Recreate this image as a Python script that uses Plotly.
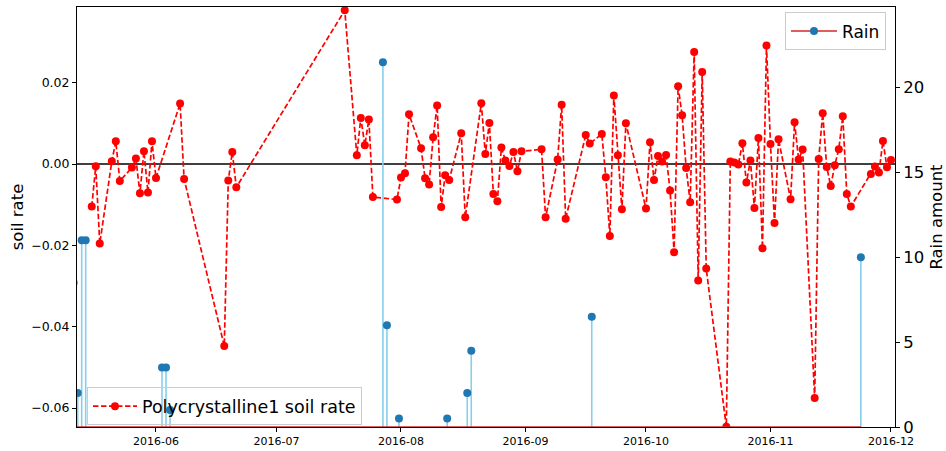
import plotly.graph_objects as go

# ---- soil rate series (daily) ----
dates = [
    "2016-05-16", "2016-05-17", "2016-05-18", "2016-05-21", "2016-05-22", "2016-05-23",
    "2016-05-26", "2016-05-27", "2016-05-28", "2016-05-29", "2016-05-30", "2016-05-31",
    "2016-06-01", "2016-06-07", "2016-06-08", "2016-06-18", "2016-06-19", "2016-06-20",
    "2016-06-21", "2016-07-18", "2016-07-21", "2016-07-22", "2016-07-23", "2016-07-24",
    "2016-07-25", "2016-07-31", "2016-08-01", "2016-08-02", "2016-08-03", "2016-08-06",
    "2016-08-07", "2016-08-08", "2016-08-09", "2016-08-10", "2016-08-11", "2016-08-12",
    "2016-08-13", "2016-08-16", "2016-08-17", "2016-08-21", "2016-08-22", "2016-08-23",
    "2016-08-24", "2016-08-25", "2016-08-26", "2016-08-27", "2016-08-28", "2016-08-29",
    "2016-08-30", "2016-08-31", "2016-09-05", "2016-09-06", "2016-09-09", "2016-09-10",
    "2016-09-11", "2016-09-16", "2016-09-17", "2016-09-20", "2016-09-21", "2016-09-22",
    "2016-09-23", "2016-09-24", "2016-09-25", "2016-09-26", "2016-10-01", "2016-10-02",
    "2016-10-03", "2016-10-04", "2016-10-05", "2016-10-06", "2016-10-07", "2016-10-08",
    "2016-10-09", "2016-10-10", "2016-10-11", "2016-10-12", "2016-10-13", "2016-10-14",
    "2016-10-15", "2016-10-16", "2016-10-21", "2016-10-22", "2016-10-23", "2016-10-24",
    "2016-10-25", "2016-10-26", "2016-10-27", "2016-10-28", "2016-10-29", "2016-10-30",
    "2016-10-31", "2016-11-01", "2016-11-02", "2016-11-03", "2016-11-06", "2016-11-07",
    "2016-11-08", "2016-11-09", "2016-11-12", "2016-11-13", "2016-11-14", "2016-11-15",
    "2016-11-16", "2016-11-17", "2016-11-18", "2016-11-19", "2016-11-20", "2016-11-21",
    "2016-11-26", "2016-11-27", "2016-11-28", "2016-11-29", "2016-11-30", "2016-12-01",
]
soil_rate = [
    -0.01047, -0.00057, -0.01957, 0.00066, 0.00558, -0.00418,
    -0.00089, 0.00133, -0.00720, 0.00312, -0.00703, 0.00558,
    -0.00344, 0.01485, -0.00369, -0.04475, -0.00408, 0.00295,
    -0.00573, 0.03779, 0.00214, 0.01131, 0.00460, 0.01092,
    -0.00811, -0.00875, -0.00334, -0.00229, 0.01222, 0.00386,
    -0.00352, -0.00506, 0.00656, 0.01436, -0.01057, -0.00278,
    -0.00393, 0.00755, -0.01310, 0.01492, 0.00246, 0.01008,
    -0.00738, -0.00917, 0.00403, 0.00084, -0.00049, 0.00295,
    -0.00179, 0.00312, 0.00361, -0.01310, 0.00108, 0.01455,
    -0.01347, 0.00713, 0.00502, 0.00738, -0.00327, -0.01773,
    0.01684, 0.00214, -0.01114, 0.01001, -0.01097, 0.00534,
    -0.00393, 0.00197, 0.00059, 0.00221, -0.00654, -0.02171,
    0.01910, 0.01197, -0.00098, -0.00942, 0.02754, -0.02867,
    0.02262, -0.02572, -0.06461, 0.00059, 0.00034, -0.00015,
    0.00509, -0.00457, 0.00084, -0.01082, 0.00639, -0.02073,
    0.02911, 0.00492, -0.01451, 0.00607, -0.00868, 0.01025,
    0.00108, 0.00354, -0.05753, 0.00123, 0.01246, -0.00074,
    -0.00541, -0.00032, 0.00361, 0.01173, -0.00738, -0.01047,
    -0.00246, -0.00064, -0.00211, 0.00565, -0.00081, 0.00098,
]

# ---- rain series ----
rain_dates = [
    "2016-05-11 12:00", "2016-05-12 12:00", "2016-05-13 12:00", "2016-05-14 12:00",
    "2016-06-02 12:00", "2016-06-03 12:00", "2016-06-04 12:00",
    "2016-07-27 12:00", "2016-07-28 12:00", "2016-07-31 12:00",
    "2016-08-12 12:00", "2016-08-17 12:00", "2016-08-18 12:00",
    "2016-09-17 12:00", "2016-11-23 12:00",
]
rain_amount = [8.5, 2.0, 11.0, 11.0, 3.5, 3.5, 1.0, 21.5, 6.0, 0.5, 0.5, 2.0, 4.5, 6.5, 10.0]

x_range = ["2016-05-12 08:00", "2016-12-02 00:00"]
y1_range = [-0.06466, 0.0386]
y2_range = [0, 24.75]
y1_ticks = [-0.06, -0.04, -0.02, 0.00, 0.02]
y2_ticks = [0, 5, 10, 15, 20]

FONT = "DejaVu Sans"
RED = "#ff0000"
BLUE = "#1f77b4"
SKY = "#87ceeb"
BASE = "#d62728"

fig = go.Figure()

fig.add_trace(go.Scatter(
    x=dates, y=soil_rate, mode="lines+markers", name="Polycrystalline1 soil rate",
    line=dict(color=RED, width=1.7, dash="5.5px,2.5px"),
    marker=dict(color=RED, size=8), legend="legend",
))

stem_x, stem_y = [], []
for d, v in zip(rain_dates, rain_amount):
    stem_x += [d, d, None]
    stem_y += [0, v, None]

fig.add_trace(go.Scatter(
    x=stem_x, y=stem_y, mode="lines", yaxis="y2",
    line=dict(color=SKY, width=1.6), showlegend=False, hoverinfo="skip",
))
fig.add_trace(go.Scatter(
    x=[rain_dates[0], rain_dates[-1]], y=[0, 0], mode="lines", yaxis="y2",
    line=dict(color=BASE, width=1.6), showlegend=False, hoverinfo="skip",
))
fig.add_trace(go.Scatter(
    x=rain_dates, y=rain_amount, mode="markers", yaxis="y2",
    marker=dict(color=BLUE, size=8), showlegend=False,
))
# legend proxy for the stem plot (point lies outside the visible range)
fig.add_trace(go.Scatter(
    x=["2017-06-01"], y=[0], mode="lines+markers", name="Rain", yaxis="y2",
    line=dict(color=BASE, width=1.6), marker=dict(color=BLUE, size=8),
    legend="legend2",
))

fig.add_shape(type="line", xref="paper", x0=0, x1=1, yref="y", y0=0, y1=0,
              line=dict(color="black", width=1.6), layer="below")

axis_common = dict(
    showgrid=False, zeroline=False, showline=True, linecolor="black", linewidth=1,
    ticks="outside", ticklen=4, tickcolor="black", tickwidth=1, automargin=False,
)

fig.update_layout(
    width=946, height=451,
    margin=dict(l=77, r=51, t=7, b=24),
    paper_bgcolor="white", plot_bgcolor="white",
    font=dict(family=FONT, color="black"),
    xaxis=dict(
        type="date", range=x_range, tick0="2016-06-01", dtick="M1", tickformat="%Y-%m",
        mirror=True, tickfont=dict(size=11), **axis_common,
    ),
    yaxis=dict(
        range=y1_range, tickvals=y1_ticks, tickformat=".2f",
        tickfont=dict(size=12.5),
        title=dict(text="soil rate", font=dict(size=16.5), standoff=3),
        **axis_common,
    ),
    yaxis2=dict(
        range=y2_range, tickvals=y2_ticks, overlaying="y", side="right",
        tickfont=dict(size=16.5),
        title=dict(text="Rain amount", font=dict(size=16.5), standoff=7),
        **axis_common,
    ),
    legend=dict(
        x=0.0122, y=0.004, xanchor="left", yanchor="bottom",
        bgcolor="rgba(255,255,255,0)", bordercolor="#cccccc", borderwidth=1,
        font=dict(size=17.5), itemwidth=44,
    ),
    legend2=dict(
        x=0.989, y=0.987, xanchor="right", yanchor="top",
        bgcolor="rgba(255,255,255,0.8)", bordercolor="#cccccc", borderwidth=1,
        font=dict(size=17), itemwidth=46,
    ),
    showlegend=True,
)

fig.write_html("out.html", post_script="document.body.style.margin='0';",
               config={"displayModeBar": False})
